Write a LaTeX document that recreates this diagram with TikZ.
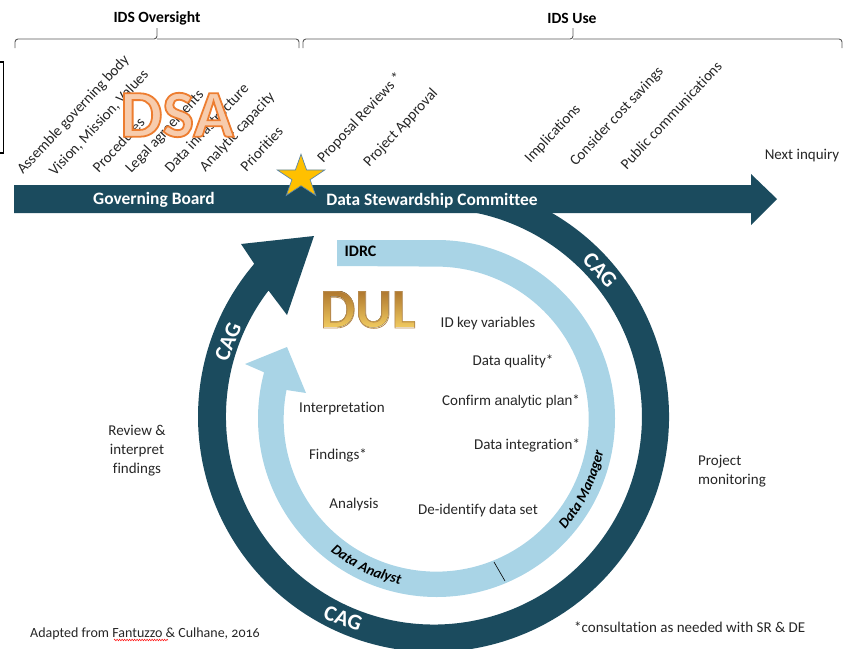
\documentclass[tikz,border=0pt]{standalone}
\usepackage{fontspec}
\setmainfont[Ligatures=NoCommon]{Carlito}
\newfontfamily\arialfont{Liberation Sans}
\usetikzlibrary{shapes.geometric,fadings,decorations.pathmorphing,decorations.text}
\definecolor{darkteal}{HTML}{1B4B5E}
\definecolor{lightblue}{HTML}{A9D4E6}
\definecolor{bodytext}{HTML}{262626}
\definecolor{bracegray}{HTML}{595959}
\definecolor{staredge}{HTML}{5B86A8}
\definecolor{stargold}{HTML}{FFC000}
\definecolor{dultop}{HTML}{A9702A}
\definecolor{dulbot}{HTML}{F9D566}
\begin{tikzfadingfrompicture}[name=dulfade]
  \node[text=transparent!0,inner sep=0pt,font=\fontsize{56}{60}\selectfont\bfseries] {DUL};
\end{tikzfadingfrompicture}
\tikzset{
  lbl/.style={text=bodytext,font=\fontsize{15}{17}\selectfont,inner sep=0pt,align=center},
  tilted/.style={lbl,rotate=47},
  head/.style={text=black,font=\fontsize{15.6}{17}\selectfont\bfseries,inner sep=0pt},
  onbar/.style={text=white,font=\fontsize{17.4}{18}\selectfont\bfseries,inner sep=0pt},
  cag/.style={text=white,font=\fontsize{22}{24}\selectfont\bfseries,inner sep=0pt},
  bracket/.style={draw=bracegray,line width=0.9pt,rounded corners=3pt},
  rolepath/.style={decorate,decoration={text along path,text format delimiters={|}{|},text align=center,
     text={|\fontsize{14.5}{16}\selectfont\bfseries\itshape|#1}}},
}
\begin{document}
\begin{tikzpicture}[x=1pt,y=-1pt]
\useasboundingbox (0,0) rectangle (853,648);
% partial box at the left edge
\draw[black,line width=1.1pt] (-2,62) -- (3.5,62) -- (3.5,153) -- (-2,153);
% braces
\draw[bracket] (15,48) -- (15,39) -- (157,39) -- (157,28);
\draw[bracket] (157,39) -- (299,39) -- (299,48);
\draw[bracket] (303,48) -- (303,39) -- (573,39) -- (573,28);
\draw[bracket] (573,39) -- (842,39) -- (842,48);
\node[head] (oversight) at (157,18) {IDS Oversight};
\node[head] (use) at (572,18) {IDS Use};
% dark ring
\fill[darkteal] (433.5,416.5) ++(62:235.5pt) arc[start angle=62,end angle=-220.5,radius=235.5pt]
  -- (257,268) -- (241,244) -- (314,236) -- (287,315) -- (268.5,290.5)
  arc[start angle=-217.3,end angle=82,radius=208pt] -- cycle;
% light ring
\fill[lightblue] (337,240) -- (436.5,240) arc[start angle=90,end angle=-195,radius=178.5pt]
  -- (245,364) -- (287,347) -- (306,393) -- (286.5,390)
  arc[start angle=-191,end angle=90,radius=152.5pt] -- (337,266) -- cycle;
\draw[black,line width=0.6pt] (494,562) -- (505,581);
% main arrow
\fill[darkteal] (14,185) -- (751,185) -- (751,174) -- (777,199) -- (751,225) -- (751,213) -- (14,213) -- cycle;
% tilted labels
\node[tilted] (t1) at (73.5,115) {Assemble governing body};
\node[tilted] (t2) at (99,123) {Vision, Mission, Values};
\node[tilted] (t3) at (118.5,145) {Procedures};
\node[tilted] (t4) at (165,132) {Legal agreements};
\node[tilted] (t5) at (206.5,128) {Data infrastructure};
\node[tilted] (t6) at (237.5,132) {Analytic capacity};
\node[tilted] (t7) at (261.5,149) {Priorities};
\node[tilted] (t8) at (360,118) {Proposal Reviews *};
\node[tilted] (t9) at (401,128) {Project Approval};
\node[tilted] (t10) at (553,134) {Implications};
\node[tilted] (t11) at (617,117) {Consider cost savings};
\node[tilted] (t12) at (671,115) {Public communications};
% DSA
\node[inner sep=0pt,font=\fontsize{67}{70}\selectfont\bfseries] (dsa) at (177,115)
  {\special{pdf:code q 2 Tr 1.8 w 0.93 0.49 0.19 RG 0.97 0.80 0.68 rg}DSA\special{pdf:code 0 Tr Q}};
% star
\node[star,star points=5,star point ratio=2.618,draw=staredge,fill=stargold,line width=0.7pt,inner sep=0pt,minimum size=50pt,yscale=0.91] (star) at (301,177) {};
% bar labels
\node[onbar] (gb) at (154,200) {Governing Board};
\node[onbar] (dsc) at (432,201) {Data Stewardship Committee};
\node[inner sep=0pt,text=black,font=\fontsize{16}{17}\selectfont\bfseries] (idrc) at (360.5,251) {IDRC};
% DUL
\fill[path fading=dulfade,fit fading=false,fading transform={shift={(368pt,-310pt)}},
      top color=dultop,bottom color=dulbot] (318,288) rectangle (418,332);
\node[inner sep=0pt,font=\fontsize{56}{60}\selectfont\bfseries] (dul) at (368,310)
  {\special{pdf:code q 1 Tr 0.8 w 0.72 0.54 0.30 RG}DUL\special{pdf:code 0 Tr Q}};
% CAG
\node[cag,rotate=-48] (cag1) at (600,270) {CAG};
\node[cag,rotate=68] (cag2) at (228,342) {CAG};
\node[cag,rotate=-20] (cag3) at (343,618) {CAG};
\coordinate (ringc) at (436.5,418.5);
\path[rolepath={Data Analyst}] (ringc) ++(-135:170pt) arc[start angle=-135,end angle=-96,radius=170pt];
\path[rolepath={Data Manager}] (ringc) ++(-46:170pt) arc[start angle=-46,end angle=-6,radius=170pt];
% inner labels
\node[lbl] (a1) at (488,323) {ID key variables};
\node[lbl] (a2) at (513,361) {Data quality*};
\node[lbl] (a3) at (511,402) {Confirm {\arialfont\fontsize{14}{16}\selectfont analytic plan}*};
\node[lbl] (a4) at (527,445) {Data integration*};
\node[lbl] (a5) at (478,510) {De-identify data set};
\node[lbl] (a6) at (354,504) {Analysis};
\node[lbl] (a7) at (338,455) {Findings*};
\node[lbl] (a8) at (342,409) {Interpretation};
% outer labels
\node[lbl,font=\fontsize{15}{19}\selectfont] (review) at (137,451) {Review \&\\interpret\\findings};
\node[lbl,font=\fontsize{15}{19}\selectfont,align=left,anchor=west] (monitor) at (698,471.5) {Project\\monitoring};
\node[lbl] (next) at (802,156) {Next inquiry};
\node[lbl,font=\fontsize{14}{17}\selectfont,anchor=west] (adapted) at (30,634) {Adapted from Fantuzzo \& Culhane, {\addfontfeature{Numbers=OldStyle}2016}};
\draw[red,line width=0.5pt,decorate,decoration={zigzag,segment length=2.5pt,amplitude=0.8pt}] (114,640) -- (168,640);
\node[lbl,anchor=west] (note) at (574,627) {*consultation as needed with SR \& DE};
\end{tikzpicture}
\end{document}
